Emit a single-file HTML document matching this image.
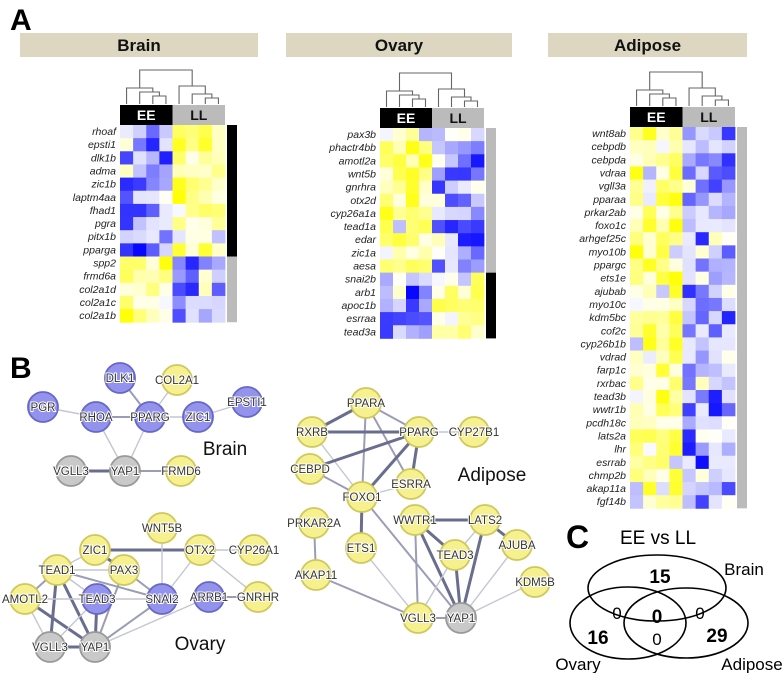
<!DOCTYPE html>
<html><head><meta charset="utf-8"><style>
body{margin:0;background:#fff}
svg{display:block}
.hd{font:bold 17px "Liberation Sans",sans-serif;fill:#111}
.gl{font:italic 10.5px "Liberation Sans",sans-serif;fill:#222}
.nl{font:11.5px "Liberation Sans",sans-serif;fill:#333;stroke:#fff;stroke-width:2px;paint-order:stroke}
.big{font:bold 30px "Liberation Sans",sans-serif;fill:#000}
.net{font:19px "Liberation Sans",sans-serif;fill:#111}
</style></head><body>
<svg id="s" width="784" height="673" viewBox="0 0 784 673" xmlns="http://www.w3.org/2000/svg">
<text x="10" y="30" class="big">A</text>
<text x="10" y="378" class="big">B</text>
<g id="hm"></g>
<g id="nw"></g>
<text x="566" y="548" class="big" style="font-size:32px">C</text>
<text x="620" y="544" style="font:19px 'Liberation Sans',sans-serif">EE vs LL</text>
<g fill="none" stroke="#000" stroke-width="1.6">
<ellipse cx="657" cy="588" rx="69" ry="33"/>
<ellipse cx="628" cy="623" rx="58" ry="36"/>
<ellipse cx="686" cy="623" rx="62" ry="35"/>
</g>
<g style="font:17px 'Liberation Sans',sans-serif" text-anchor="middle">
<text x="660" y="583" font-weight="bold" font-size="19">15</text>
<text x="617" y="619">0</text>
<text x="657" y="623" font-weight="bold" font-size="19">0</text>
<text x="700" y="619">0</text>
<text x="657" y="645">0</text>
<text x="598" y="644" font-weight="bold" font-size="19">16</text>
<text x="717" y="642" font-weight="bold" font-size="19">29</text>
<text x="744" y="575">Brain</text>
<text x="578" y="670">Ovary</text>
<text x="752" y="670">Adipose</text>
</g>
</svg>
<script>
var NS="http://www.w3.org/2000/svg";
function el(p,t,a,txt){var e=document.createElementNS(NS,t);for(var k in a)e.setAttribute(k,a[k]);if(txt!=null)e.textContent=txt;p.appendChild(e);return e;}
var seed=7;function rnd(){seed=(seed*16807)%2147483647;return seed/2147483647;}
function col(v){v=Math.max(-1,Math.min(1,v));if(v<0){var c=Math.round(255*(1+v));return"rgb("+c+","+c+",255)";}var b=Math.round(255*(1-v));return"rgb(255,255,"+b+")";}
var hm=document.getElementById("hm");
function heat(o){
 el(hm,"rect",{x:o.hx,y:33,width:o.hw,height:24,fill:"#ddd6c0"});
 el(hm,"text",{x:o.hx+o.hw/2,y:51,"text-anchor":"middle","class":"hd"},o.title);
 var x0=o.x,cw=(o.x2-o.x)/8,rh=13.15,y0=o.y;
 el(hm,"rect",{x:x0,y:y0-20,width:cw*4,height:20,fill:"#000"});
 el(hm,"rect",{x:x0+cw*4,y:y0-20,width:cw*4,height:20,fill:"#bbb"});
 el(hm,"text",{x:x0+cw*2,y:y0-5,"text-anchor":"middle","class":"hd",style:"font-size:14px;fill:#fff"},"EE");
 el(hm,"text",{x:x0+cw*6,y:y0-5,"text-anchor":"middle","class":"hd",style:"font-size:14px"},"LL");
 var cx=function(i){return x0+cw*(i+0.5)};var yb=y0-21;
 var d="";
 d+="M"+cx(0)+" "+yb+"V"+(yb-16)+"H"+((cx(1)+cx(3))/2)+"V"+(yb-12);
 d+="M"+cx(1)+" "+yb+"V"+(yb-12)+"H"+((cx(2)+cx(3))/2)+"V"+(yb-8);
 d+="M"+cx(2)+" "+yb+"V"+(yb-8)+"H"+cx(3)+"V"+yb;
 d+="M"+cx(4)+" "+yb+"V"+(yb-18)+"H"+((cx(5)+cx(7))/2)+"V"+(yb-10);
 d+="M"+cx(5)+" "+yb+"V"+(yb-10)+"H"+((cx(6)+cx(7))/2)+"V"+(yb-6);
 d+="M"+cx(6)+" "+yb+"V"+(yb-6)+"H"+cx(7)+"V"+yb;
 var l=(cx(0)+(cx(1)+cx(3))/2)/2, r=(cx(4)+(cx(5)+cx(7))/2)/2;
 d+="M"+l+" "+(yb-16)+"V"+(yb-34)+"H"+r+"V"+(yb-18);
 el(hm,"path",{d:d,fill:"none",stroke:"#666","stroke-width":1.1});
 o.genes.forEach(function(g,i){
  var y=y0+i*rh,s=o.sign(i);
  el(hm,"text",{x:x0-4,y:y+10,"text-anchor":"end","class":"gl"},g);
  for(var j=0;j<8;j++){var base=(j<4?s:-s);var q=rnd();var v=base*(0.08+0.75*q*q+0.15*q);if(rnd()<0.1)v=-v*0.3;
   el(hm,"rect",{x:x0+j*cw,y:y,width:cw+0.4,height:rh+0.4,fill:col(v)});}
 });
 o.side.forEach(function(sd){el(hm,"rect",{x:o.x2+2,y:y0+sd[0]*rh,width:10,height:(sd[1]-sd[0])*rh,fill:sd[2]});});
}
heat({title:"Brain",hx:20,hw:238,x:120,x2:225,y:125,
 genes:["rhoaf","epsti1","dlk1b","adma","zic1b","laptm4aa","fhad1","pgra","pitx1b","pparga","spp2","frmd6a","col2a1d","col2a1c","col2a1b"],
 sign:function(i){return i<10?-1:1},side:[[0,10,"#000"],[10,15,"#bbb"]]});
heat({title:"Ovary",hx:286,hw:226,x:380,x2:484,y:128,
 genes:["pax3b","phactr4bb","amotl2a","wnt5b","gnrhra","otx2d","cyp26a1a","tead1a","edar","zic1a","aesa","snai2b","arb1","apoc1b","esrraa","tead3a"],
 sign:function(i){return i<11?1:-1},side:[[0,11,"#bbb"],[11,16,"#000"]]});
heat({title:"Adipose",hx:548,hw:199,x:630,x2:735,y:127,
 genes:["wnt8ab","cebpdb","cebpda","vdraa","vgll3a","pparaa","prkar2ab","foxo1c","arhgef25c","myo10b","ppargc","ets1e","ajubab","myo10c","kdm5bc","cof2c","cyp26b1b","vdrad","farp1c","rxrbac","tead3b","wwtr1b","pcdh18c","lats2a","lhr","esrrab","chmp2b","akap11a","fgf14b"],
 sign:function(){return 1},side:[[0,29,"#bbb"]]});
var nw=document.getElementById("nw");
var Y={f:"#f6f18e",s:"#cfc85a"},B={f:"#9393ee",s:"#6767c8"},G={f:"#c9c9c9",s:"#999"};
function net(nodes,edges){
 edges.forEach(function(e){var a=nodes[e[0]],b=nodes[e[1]];var t=e[2]||1;
  el(nw,"line",{x1:a[0],y1:a[1],x2:b[0],y2:b[1],stroke:t>=3?"#6a6e8e":(t==2?"#9a9db5":"#c4c6d2"),"stroke-width":t>=3?3:(t==2?2:1.4)});});
 for(var k in nodes){var n=nodes[k];el(nw,"circle",{cx:n[0],cy:n[1],r:15,fill:n[2].f,stroke:n[2].s,"stroke-width":1.8});
  el(nw,"text",{x:n[0],y:n[1]+4,"text-anchor":"middle","class":"nl"},n[3]||k);}
}
net({PGR:[43,407,B],DLK1:[120,378,B],COL2A1:[177,380,Y],EPSTI1:[247,402,B],RHOA:[96,417,B],PPARG:[150,417,B],ZIC1:[198,417,B],VGLL3:[71,471,G],YAP1:[125,471,G],FRMD6:[181,471,Y]},
[["PGR","RHOA"],["RHOA","PPARG",2],["PPARG","ZIC1"],["ZIC1","EPSTI1"],["DLK1","PPARG",2],["COL2A1","PPARG"],["RHOA","YAP1"],["PPARG","YAP1"],["VGLL3","YAP1",3],["YAP1","FRMD6",2]]);
net({WNT5B:[162,528,Y],ZIC1:[95,550,Y],OTX2:[200,550,Y],CYP26A1:[254,550,Y],TEAD1:[57,570,Y],PAX3:[124,570,Y],AMOTL2:[25,599,Y],TEAD3:[97,599,B],SNAI2:[162,599,B],ARRB1:[209,597,B],GNRHR:[258,597,Y],VGLL3:[50,647,G],YAP1:[95,647,G]},
[["ZIC1","OTX2",3],["OTX2","CYP26A1"],["ZIC1","TEAD1"],["ZIC1","PAX3",3],["TEAD1","PAX3"],["TEAD1","SNAI2",2],["TEAD1","TEAD3"],["TEAD1","AMOTL2",2],["TEAD1","VGLL3",3],["TEAD1","YAP1",3],["AMOTL2","TEAD3"],["AMOTL2","YAP1",3],["AMOTL2","VGLL3"],["TEAD3","YAP1",3],["TEAD3","VGLL3"],["TEAD3","SNAI2"],["PAX3","SNAI2",2],["PAX3","YAP1",2],["SNAI2","YAP1",2],["WNT5B","SNAI2"],["OTX2","SNAI2"],["OTX2","GNRHR"],["ARRB1","GNRHR",2],["ARRB1","YAP1"],["VGLL3","YAP1",3]]);
net({PPARA:[366,403,Y],RXRB:[312,432,Y],PPARG:[419,432,Y],CYP27B1:[474,432,Y],CEBPD:[310,469,Y],ESRRA:[411,484,Y],FOXO1:[362,497,Y],PRKAR2A:[314,523,Y],ETS1:[361,548,Y],AKAP11:[316,575,Y],WWTR1:[415,520,Y],LATS2:[485,520,Y],TEAD3:[455,555,Y],AJUBA:[517,545,Y],KDM5B:[535,582,Y],VGLL3:[418,618,Y],YAP1:[461,618,G]},
[["PPARA","RXRB",3],["PPARA","PPARG",2],["PPARA","FOXO1",2],["PPARA","ESRRA",2],["RXRB","PPARG",3],["RXRB","FOXO1"],["PPARG","CYP27B1"],["PPARG","CEBPD",3],["PPARG","FOXO1",3],["PPARG","ESRRA",3],["CEBPD","FOXO1",2],["FOXO1","ESRRA"],["FOXO1","ETS1",3],["FOXO1","YAP1",2],["PRKAR2A","AKAP11",2],["AKAP11","VGLL3",2],["ETS1","VGLL3"],["WWTR1","LATS2",3],["WWTR1","VGLL3",2],["WWTR1","TEAD3",3],["WWTR1","YAP1",3],["LATS2","TEAD3"],["LATS2","AJUBA",3],["LATS2","YAP1",3],["TEAD3","YAP1",3],["TEAD3","VGLL3"],["AJUBA","YAP1"],["KDM5B","YAP1"],["VGLL3","YAP1",2]]);
var t=[["Brain",225,455],["Ovary",200,650],["Adipose",492,481]];
t.forEach(function(a){el(nw,"text",{x:a[1],y:a[2],"text-anchor":"middle","class":"net"},a[0]);});
</script>
</body></html>
